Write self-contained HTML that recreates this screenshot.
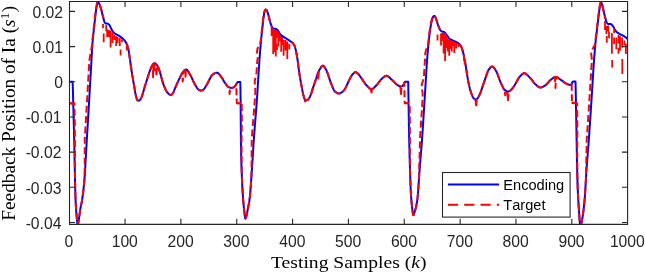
<!DOCTYPE html>
<html><head><meta charset="utf-8"><style>html,body{margin:0;padding:0;background:#fff;width:645px;height:272px;overflow:hidden}svg{display:block} text{-webkit-font-smoothing:antialiased} .gs{will-change:transform}</style></head>
<body><div class="gs"><svg width="645" height="272" viewBox="0 0 645 272">
<rect width="645" height="272" fill="#fff"/>
<defs><clipPath id="c"><rect x="69.5" y="1.5" width="558.1" height="222.9"/></clipPath></defs>
<g clip-path="url(#c)" fill="none" stroke-linejoin="round" stroke-linecap="butt">
<path d="M69.30,81.80 L69.54,81.80 L69.77,81.80 L70.01,81.80 L70.24,81.80 L70.48,81.80 L70.71,81.80 L70.95,81.80 L71.19,81.80 L71.42,81.80 L71.66,81.80 L71.89,81.80 L72.13,81.80 L72.36,81.80 L72.60,81.80 L72.75,84.70 L72.90,90.00 L73.15,99.57 L73.40,110.00 L73.60,117.44 L73.80,124.57 L74.00,131.91 L74.20,140.00 L74.40,149.59 L74.60,160.10 L74.80,170.00 L75.00,179.34 L75.20,188.17 L75.40,195.00 L75.62,200.46 L75.85,204.97 L76.08,208.75 L76.30,212.00 L76.55,215.26 L76.80,218.18 L77.05,220.63 L77.30,222.50 L77.55,224.03 L77.80,224.80 L78.00,224.41 L78.20,223.45 L78.40,222.21 L78.60,221.00 L78.83,219.64 L79.06,218.11 L79.29,216.47 L79.51,214.78 L79.74,213.09 L79.97,211.48 L80.20,210.00 L80.44,208.57 L80.69,207.25 L80.93,206.01 L81.18,204.80 L81.42,203.58 L81.67,202.34 L81.91,201.01 L82.16,199.58 L82.40,198.00 L82.65,196.24 L82.90,194.36 L83.15,192.34 L83.40,190.19 L83.65,187.89 L83.90,185.43 L84.15,182.80 L84.40,180.00 L84.64,176.99 L84.88,173.56 L85.12,169.79 L85.36,165.76 L85.60,161.52 L85.84,157.17 L86.08,152.77 L86.32,148.39 L86.56,144.11 L86.80,140.00 L87.04,136.01 L87.28,132.03 L87.52,128.06 L87.76,124.10 L88.00,120.13 L88.24,116.14 L88.48,112.15 L88.72,108.13 L88.96,104.08 L89.20,100.00 L89.45,95.69 L89.70,91.31 L89.95,86.89 L90.20,82.46 L90.45,78.03 L90.70,73.62 L90.95,69.27 L91.20,65.00 L91.43,60.95 L91.67,56.80 L91.90,52.69 L92.13,48.75 L92.37,45.14 L92.60,42.00 L92.85,39.16 L93.10,36.65 L93.35,34.32 L93.60,32.00 L93.85,29.68 L94.10,27.44 L94.35,25.23 L94.60,23.00 L94.85,20.70 L95.10,18.36 L95.35,16.09 L95.60,14.00 L95.85,12.04 L96.10,10.16 L96.35,8.45 L96.60,7.00 L96.84,5.71 L97.08,4.42 L97.32,3.30 L97.56,2.50 L97.80,2.20 L98.02,2.26 L98.23,2.42 L98.45,2.66 L98.67,2.95 L98.88,3.27 L99.10,3.60 L99.35,4.04 L99.60,4.59 L99.85,5.22 L100.10,5.92 L100.35,6.65 L100.60,7.40 L100.84,8.16 L101.08,8.99 L101.32,9.88 L101.56,10.81 L101.80,11.78 L102.04,12.75 L102.28,13.73 L102.52,14.69 L102.76,15.62 L103.00,16.50 L103.22,17.35 L103.45,18.25 L103.67,19.17 L103.90,20.07 L104.12,20.90 L104.35,21.63 L104.58,22.21 L104.80,22.60 L105.02,22.87 L105.24,23.10 L105.46,23.30 L105.68,23.43 L105.90,23.50 L106.15,23.53 L106.40,23.54 L106.65,23.55 L106.90,23.56 L107.15,23.58 L107.40,23.60 L107.62,23.65 L107.85,23.74 L108.08,23.86 L108.30,24.01 L108.53,24.18 L108.75,24.38 L108.98,24.58 L109.20,24.80 L109.44,25.08 L109.68,25.45 L109.92,25.90 L110.16,26.39 L110.40,26.92 L110.64,27.46 L110.88,28.00 L111.12,28.51 L111.36,28.99 L111.60,29.40 L111.83,29.77 L112.07,30.13 L112.30,30.49 L112.53,30.84 L112.77,31.18 L113.00,31.51 L113.23,31.82 L113.47,32.12 L113.70,32.40 L113.93,32.66 L114.17,32.89 L114.40,33.10 L114.65,33.30 L114.89,33.48 L115.14,33.65 L115.39,33.81 L115.63,33.96 L115.88,34.10 L116.13,34.23 L116.37,34.36 L116.62,34.49 L116.87,34.61 L117.11,34.74 L117.36,34.87 L117.61,35.01 L117.85,35.15 L118.10,35.30 L118.34,35.45 L118.58,35.60 L118.82,35.75 L119.06,35.90 L119.30,36.05 L119.54,36.20 L119.78,36.35 L120.02,36.50 L120.26,36.66 L120.50,36.82 L120.74,36.99 L120.98,37.16 L121.22,37.33 L121.46,37.51 L121.70,37.70 L121.93,37.89 L122.17,38.08 L122.40,38.28 L122.63,38.48 L122.87,38.69 L123.10,38.90 L123.33,39.13 L123.57,39.36 L123.80,39.61 L124.03,39.86 L124.27,40.12 L124.50,40.40 L124.72,40.68 L124.95,40.98 L125.17,41.29 L125.40,41.62 L125.62,41.98 L125.85,42.36 L126.08,42.77 L126.30,43.20 L126.54,43.69 L126.77,44.21 L127.01,44.78 L127.25,45.40 L127.49,46.07 L127.72,46.81 L127.96,47.62 L128.20,48.50 L128.43,49.55 L128.67,50.84 L128.90,52.30 L129.13,53.86 L129.37,55.45 L129.60,57.00 L129.85,58.66 L130.10,60.39 L130.35,62.16 L130.60,63.96 L130.85,65.76 L131.10,67.53 L131.35,69.25 L131.60,70.90 L131.84,72.40 L132.07,73.88 L132.31,75.33 L132.55,76.75 L132.78,78.16 L133.02,79.55 L133.25,80.92 L133.49,82.28 L133.73,83.62 L133.96,84.97 L134.20,86.30 L134.44,87.70 L134.69,89.14 L134.93,90.58 L135.17,91.97 L135.41,93.28 L135.66,94.47 L135.90,95.50 L136.13,96.40 L136.36,97.31 L136.59,98.19 L136.81,98.97 L137.04,99.62 L137.27,100.08 L137.50,100.30 L137.75,100.39 L138.00,100.46 L138.25,100.52 L138.50,100.56 L138.75,100.59 L139.00,100.60 L139.23,100.55 L139.46,100.41 L139.69,100.20 L139.91,99.94 L140.14,99.64 L140.37,99.32 L140.60,99.00 L140.84,98.63 L141.09,98.19 L141.33,97.68 L141.57,97.11 L141.81,96.49 L142.06,95.83 L142.30,95.12 L142.54,94.37 L142.79,93.59 L143.03,92.78 L143.27,91.95 L143.51,91.11 L143.76,90.26 L144.00,89.40 L144.24,88.54 L144.49,87.69 L144.73,86.84 L144.97,86.02 L145.21,85.22 L145.46,84.44 L145.70,83.70 L145.95,82.95 L146.20,82.20 L146.44,81.42 L146.69,80.65 L146.94,79.86 L147.19,79.07 L147.43,78.28 L147.68,77.49 L147.93,76.70 L148.18,75.91 L148.42,75.14 L148.67,74.37 L148.92,73.62 L149.17,72.88 L149.41,72.15 L149.66,71.45 L149.91,70.77 L150.16,70.11 L150.40,69.48 L150.65,68.87 L150.90,68.30 L151.13,67.77 L151.37,67.24 L151.60,66.72 L151.83,66.21 L152.07,65.73 L152.30,65.29 L152.53,64.90 L152.77,64.57 L153.00,64.30 L153.23,64.07 L153.46,63.85 L153.69,63.65 L153.91,63.47 L154.14,63.33 L154.37,63.23 L154.60,63.20 L154.82,63.23 L155.05,63.32 L155.28,63.45 L155.50,63.62 L155.72,63.82 L155.95,64.04 L156.18,64.27 L156.40,64.50 L156.64,64.77 L156.89,65.09 L157.13,65.46 L157.38,65.86 L157.62,66.30 L157.87,66.77 L158.11,67.26 L158.36,67.77 L158.60,68.30 L158.84,68.86 L159.09,69.49 L159.33,70.17 L159.57,70.90 L159.81,71.68 L160.06,72.50 L160.30,73.34 L160.54,74.22 L160.79,75.11 L161.03,76.01 L161.27,76.92 L161.51,77.84 L161.76,78.74 L162.00,79.63 L162.24,80.51 L162.49,81.36 L162.73,82.17 L162.97,82.95 L163.21,83.69 L163.46,84.37 L163.70,85.00 L163.94,85.60 L164.19,86.20 L164.43,86.80 L164.67,87.39 L164.92,87.97 L165.16,88.53 L165.41,89.08 L165.65,89.62 L165.89,90.13 L166.14,90.61 L166.38,91.07 L166.62,91.49 L166.87,91.88 L167.11,92.23 L167.36,92.54 L167.60,92.80 L167.84,93.03 L168.07,93.26 L168.31,93.49 L168.54,93.71 L168.78,93.92 L169.01,94.12 L169.25,94.31 L169.49,94.48 L169.72,94.63 L169.96,94.75 L170.19,94.86 L170.43,94.94 L170.66,94.98 L170.90,95.00 L171.13,94.96 L171.37,94.86 L171.60,94.69 L171.83,94.48 L172.07,94.22 L172.30,93.94 L172.53,93.63 L172.77,93.32 L173.00,93.00 L173.23,92.64 L173.46,92.21 L173.69,91.71 L173.92,91.15 L174.15,90.56 L174.38,89.95 L174.61,89.34 L174.84,88.73 L175.07,88.15 L175.30,87.60 L175.54,87.05 L175.78,86.50 L176.03,85.95 L176.27,85.40 L176.51,84.86 L176.75,84.31 L176.99,83.77 L177.24,83.23 L177.48,82.69 L177.72,82.16 L177.96,81.63 L178.21,81.10 L178.45,80.58 L178.69,80.07 L178.93,79.56 L179.17,79.06 L179.42,78.57 L179.66,78.08 L179.90,77.60 L180.14,77.13 L180.38,76.64 L180.62,76.15 L180.85,75.66 L181.09,75.17 L181.33,74.69 L181.57,74.22 L181.81,73.78 L182.05,73.36 L182.28,72.96 L182.52,72.60 L182.76,72.28 L183.00,72.00 L183.24,71.75 L183.47,71.49 L183.71,71.24 L183.94,70.99 L184.18,70.75 L184.41,70.52 L184.65,70.31 L184.89,70.11 L185.12,69.94 L185.36,69.79 L185.59,69.67 L185.83,69.58 L186.06,69.52 L186.30,69.50 L186.54,69.54 L186.78,69.65 L187.02,69.82 L187.26,70.05 L187.50,70.32 L187.74,70.64 L187.98,71.00 L188.22,71.39 L188.46,71.79 L188.70,72.21 L188.94,72.64 L189.18,73.07 L189.42,73.50 L189.66,73.91 L189.90,74.30 L190.15,74.71 L190.40,75.14 L190.65,75.60 L190.90,76.08 L191.15,76.58 L191.40,77.09 L191.65,77.61 L191.90,78.15 L192.15,78.69 L192.40,79.24 L192.65,79.79 L192.90,80.35 L193.15,80.89 L193.40,81.44 L193.65,81.98 L193.90,82.50 L194.15,83.02 L194.40,83.51 L194.65,83.99 L194.90,84.45 L195.15,84.89 L195.40,85.30 L195.64,85.68 L195.88,86.07 L196.12,86.45 L196.35,86.84 L196.59,87.21 L196.83,87.58 L197.07,87.93 L197.31,88.26 L197.55,88.57 L197.78,88.85 L198.02,89.10 L198.26,89.32 L198.50,89.50 L198.74,89.66 L198.98,89.82 L199.22,89.97 L199.46,90.12 L199.70,90.25 L199.94,90.37 L200.18,90.46 L200.42,90.54 L200.66,90.58 L200.90,90.60 L201.14,90.59 L201.37,90.55 L201.61,90.49 L201.85,90.41 L202.08,90.31 L202.32,90.20 L202.55,90.08 L202.79,89.94 L203.03,89.80 L203.26,89.65 L203.50,89.50 L203.74,89.31 L203.98,89.07 L204.22,88.79 L204.47,88.46 L204.71,88.10 L204.95,87.72 L205.19,87.32 L205.43,86.91 L205.68,86.49 L205.92,86.08 L206.16,85.68 L206.40,85.30 L206.64,84.91 L206.89,84.51 L207.13,84.08 L207.38,83.64 L207.62,83.18 L207.87,82.71 L208.11,82.23 L208.36,81.75 L208.60,81.26 L208.84,80.77 L209.09,80.27 L209.33,79.78 L209.58,79.30 L209.82,78.82 L210.07,78.35 L210.31,77.90 L210.56,77.45 L210.80,77.02 L211.04,76.62 L211.29,76.23 L211.53,75.87 L211.78,75.53 L212.02,75.22 L212.27,74.94 L212.51,74.69 L212.76,74.48 L213.00,74.30 L213.24,74.15 L213.47,74.00 L213.71,73.85 L213.95,73.71 L214.19,73.57 L214.43,73.44 L214.66,73.31 L214.90,73.20 L215.14,73.09 L215.38,72.99 L215.61,72.91 L215.85,72.84 L216.09,72.78 L216.33,72.74 L216.56,72.71 L216.80,72.70 L217.05,72.72 L217.30,72.78 L217.55,72.88 L217.80,73.01 L218.05,73.17 L218.30,73.36 L218.55,73.57 L218.80,73.81 L219.05,74.07 L219.30,74.35 L219.55,74.65 L219.80,74.96 L220.05,75.28 L220.30,75.60 L220.55,75.94 L220.80,76.27 L221.05,76.61 L221.30,76.95 L221.55,77.28 L221.80,77.60 L222.04,77.92 L222.27,78.29 L222.51,78.68 L222.75,79.10 L222.98,79.54 L223.22,79.98 L223.45,80.42 L223.69,80.85 L223.93,81.26 L224.16,81.65 L224.40,82.00 L224.64,82.35 L224.89,82.71 L225.13,83.07 L225.38,83.43 L225.62,83.79 L225.87,84.15 L226.11,84.50 L226.36,84.84 L226.60,85.17 L226.84,85.49 L227.09,85.79 L227.33,86.07 L227.58,86.33 L227.82,86.56 L228.07,86.77 L228.31,86.95 L228.56,87.09 L228.80,87.20 L229.05,87.29 L229.30,87.38 L229.55,87.47 L229.80,87.55 L230.05,87.62 L230.30,87.69 L230.55,87.75 L230.80,87.80 L231.05,87.84 L231.30,87.87 L231.55,87.89 L231.80,87.90 L232.04,87.89 L232.28,87.85 L232.53,87.78 L232.77,87.70 L233.01,87.59 L233.25,87.47 L233.49,87.34 L233.73,87.19 L233.97,87.03 L234.22,86.86 L234.46,86.68 L234.70,86.50 L234.95,86.27 L235.20,85.97 L235.45,85.62 L235.70,85.22 L235.95,84.80 L236.20,84.36 L236.45,83.92 L236.70,83.50 L236.92,83.12 L237.15,82.72 L237.38,82.32 L237.60,81.90 L240.30,81.90 L240.45,88.73 L240.60,100.00 L240.75,120.63 L240.90,140.00 L241.12,152.80 L241.35,162.13 L241.58,169.14 L241.80,175.00 L242.03,180.50 L242.27,185.34 L242.50,189.62 L242.73,193.42 L242.97,196.85 L243.20,200.00 L243.42,202.75 L243.64,205.27 L243.86,207.57 L244.08,209.64 L244.30,211.50 L244.52,213.36 L244.74,215.26 L244.96,216.94 L245.18,218.14 L245.40,218.60 L245.64,218.41 L245.88,217.91 L246.12,217.19 L246.36,216.35 L246.60,215.50 L246.83,214.56 L247.07,213.39 L247.30,212.08 L247.53,210.69 L247.77,209.31 L248.00,208.00 L248.25,206.73 L248.50,205.54 L248.75,204.36 L249.00,203.09 L249.25,201.67 L249.50,200.00 L249.74,198.05 L249.98,195.73 L250.22,193.08 L250.46,190.16 L250.70,187.03 L250.94,183.73 L251.18,180.33 L251.42,176.87 L251.66,173.41 L251.90,170.00 L252.14,166.53 L252.38,162.84 L252.61,159.00 L252.85,155.07 L253.09,151.14 L253.33,147.26 L253.56,143.53 L253.80,140.00 L254.04,136.66 L254.28,133.44 L254.52,130.33 L254.75,127.30 L254.99,124.33 L255.23,121.39 L255.47,118.47 L255.71,115.54 L255.95,112.58 L256.18,109.57 L256.42,106.49 L256.66,103.30 L256.90,100.00 L257.15,96.42 L257.39,92.66 L257.64,88.76 L257.88,84.77 L258.13,80.73 L258.37,76.68 L258.62,72.68 L258.86,68.77 L259.11,64.98 L259.35,61.38 L259.60,58.00 L259.84,54.83 L260.09,51.76 L260.33,48.79 L260.57,45.92 L260.81,43.17 L261.06,40.53 L261.30,38.00 L261.52,35.85 L261.74,33.83 L261.96,31.89 L262.18,29.96 L262.40,28.00 L262.62,25.94 L262.84,23.82 L263.06,21.72 L263.28,19.75 L263.50,18.00 L263.73,16.33 L263.95,14.74 L264.17,13.37 L264.40,12.40 L264.63,11.66 L264.87,10.98 L265.10,10.39 L265.33,9.92 L265.57,9.61 L265.80,9.50 L266.04,9.59 L266.28,9.83 L266.52,10.17 L266.76,10.58 L267.00,11.00 L267.24,11.50 L267.48,12.13 L267.72,12.85 L267.96,13.62 L268.20,14.40 L268.44,15.21 L268.68,16.09 L268.92,17.03 L269.16,18.00 L269.40,18.98 L269.64,19.96 L269.88,20.91 L270.12,21.82 L270.36,22.65 L270.60,23.40 L270.84,24.11 L271.09,24.82 L271.33,25.51 L271.57,26.14 L271.81,26.70 L272.06,27.16 L272.30,27.50 L272.55,27.77 L272.80,28.00 L273.05,28.21 L273.30,28.38 L273.55,28.51 L273.80,28.60 L274.05,28.66 L274.30,28.70 L274.55,28.73 L274.80,28.75 L275.05,28.78 L275.30,28.81 L275.55,28.85 L275.80,28.90 L276.03,28.98 L276.26,29.09 L276.49,29.24 L276.71,29.41 L276.94,29.60 L277.17,29.80 L277.40,30.00 L277.64,30.24 L277.88,30.52 L278.12,30.85 L278.35,31.20 L278.59,31.57 L278.83,31.96 L279.07,32.36 L279.31,32.75 L279.55,33.13 L279.78,33.50 L280.02,33.83 L280.26,34.14 L280.50,34.40 L280.74,34.64 L280.98,34.86 L281.22,35.07 L281.46,35.28 L281.71,35.47 L281.95,35.66 L282.19,35.84 L282.43,36.02 L282.67,36.19 L282.91,36.36 L283.15,36.52 L283.39,36.68 L283.64,36.85 L283.88,37.01 L284.12,37.17 L284.36,37.33 L284.60,37.50 L284.84,37.67 L285.09,37.83 L285.33,37.99 L285.57,38.15 L285.81,38.30 L286.06,38.45 L286.30,38.60 L286.54,38.75 L286.79,38.90 L287.03,39.04 L287.27,39.19 L287.51,39.34 L287.76,39.49 L288.00,39.64 L288.24,39.80 L288.49,39.95 L288.73,40.11 L288.97,40.28 L289.21,40.45 L289.46,40.62 L289.70,40.80 L289.95,40.98 L290.19,41.16 L290.44,41.33 L290.69,41.49 L290.94,41.66 L291.18,41.83 L291.43,42.00 L291.68,42.19 L291.92,42.38 L292.17,42.58 L292.42,42.79 L292.66,43.02 L292.91,43.27 L293.16,43.54 L293.41,43.84 L293.65,44.15 L293.90,44.50 L294.15,44.93 L294.40,45.48 L294.65,46.13 L294.90,46.87 L295.15,47.70 L295.40,48.59 L295.65,49.52 L295.90,50.50 L296.13,51.48 L296.36,52.60 L296.59,53.84 L296.81,55.17 L297.04,56.57 L297.27,58.02 L297.50,59.50 L297.75,61.23 L298.00,63.15 L298.25,65.15 L298.50,67.17 L298.75,69.11 L299.00,70.90 L299.24,72.47 L299.47,74.00 L299.71,75.49 L299.95,76.95 L300.18,78.37 L300.42,79.76 L300.65,81.12 L300.89,82.45 L301.13,83.75 L301.36,85.04 L301.60,86.30 L301.84,87.57 L302.08,88.86 L302.31,90.13 L302.55,91.37 L302.79,92.55 L303.02,93.65 L303.26,94.64 L303.50,95.50 L303.74,96.31 L303.98,97.14 L304.21,97.94 L304.45,98.69 L304.69,99.34 L304.92,99.85 L305.16,100.18 L305.40,100.30 L305.64,100.30 L305.88,100.29 L306.11,100.27 L306.35,100.25 L306.59,100.22 L306.82,100.18 L307.06,100.14 L307.30,100.10 L307.55,100.01 L307.80,99.84 L308.05,99.61 L308.30,99.32 L308.55,99.00 L308.80,98.64 L309.05,98.27 L309.30,97.90 L309.54,97.51 L309.79,97.06 L310.03,96.56 L310.27,96.02 L310.51,95.43 L310.76,94.80 L311.00,94.14 L311.24,93.44 L311.49,92.72 L311.73,91.98 L311.97,91.23 L312.21,90.46 L312.46,89.68 L312.70,88.90 L312.94,88.12 L313.19,87.34 L313.43,86.58 L313.67,85.82 L313.91,85.09 L314.16,84.38 L314.40,83.70 L314.65,83.01 L314.90,82.30 L315.14,81.56 L315.39,80.82 L315.64,80.07 L315.89,79.31 L316.13,78.54 L316.38,77.78 L316.63,77.02 L316.88,76.27 L317.12,75.54 L317.37,74.81 L317.62,74.11 L317.87,73.43 L318.11,72.77 L318.36,72.15 L318.61,71.56 L318.86,71.00 L319.10,70.49 L319.35,70.02 L319.60,69.60 L319.84,69.22 L320.07,68.83 L320.31,68.44 L320.54,68.06 L320.78,67.68 L321.01,67.33 L321.25,66.99 L321.49,66.68 L321.72,66.40 L321.96,66.17 L322.19,65.97 L322.43,65.82 L322.66,65.73 L322.90,65.70 L323.14,65.74 L323.38,65.85 L323.62,66.02 L323.85,66.24 L324.09,66.52 L324.33,66.83 L324.57,67.18 L324.81,67.56 L325.05,67.96 L325.28,68.37 L325.52,68.78 L325.76,69.20 L326.00,69.60 L326.25,70.04 L326.50,70.54 L326.74,71.08 L326.99,71.67 L327.24,72.29 L327.49,72.96 L327.73,73.65 L327.98,74.36 L328.23,75.10 L328.48,75.85 L328.72,76.61 L328.97,77.37 L329.22,78.14 L329.47,78.90 L329.71,79.65 L329.96,80.39 L330.21,81.11 L330.46,81.80 L330.70,82.47 L330.95,83.10 L331.20,83.70 L331.44,84.26 L331.68,84.84 L331.91,85.42 L332.15,86.01 L332.39,86.60 L332.62,87.18 L332.86,87.76 L333.10,88.31 L333.34,88.84 L333.57,89.35 L333.81,89.82 L334.05,90.25 L334.29,90.64 L334.52,90.99 L334.76,91.27 L335.00,91.50 L335.24,91.70 L335.49,91.89 L335.73,92.08 L335.98,92.26 L336.22,92.44 L336.46,92.60 L336.71,92.76 L336.95,92.90 L337.19,93.03 L337.44,93.15 L337.68,93.25 L337.92,93.34 L338.17,93.41 L338.41,93.46 L338.66,93.49 L338.90,93.50 L339.14,93.49 L339.38,93.45 L339.62,93.39 L339.87,93.32 L340.11,93.22 L340.35,93.11 L340.59,92.99 L340.83,92.86 L341.07,92.73 L341.32,92.59 L341.56,92.44 L341.80,92.30 L342.04,92.15 L342.27,91.98 L342.51,91.78 L342.75,91.57 L342.98,91.35 L343.22,91.10 L343.45,90.84 L343.69,90.57 L343.93,90.29 L344.16,90.00 L344.40,89.70 L344.65,89.36 L344.90,88.99 L345.15,88.58 L345.40,88.15 L345.65,87.68 L345.90,87.20 L346.15,86.69 L346.40,86.17 L346.65,85.64 L346.90,85.09 L347.15,84.53 L347.40,83.97 L347.65,83.41 L347.90,82.84 L348.15,82.28 L348.40,81.73 L348.65,81.18 L348.90,80.65 L349.15,80.13 L349.40,79.63 L349.65,79.15 L349.90,78.70 L350.14,78.28 L350.37,77.85 L350.61,77.42 L350.85,77.00 L351.08,76.58 L351.32,76.18 L351.55,75.79 L351.79,75.42 L352.03,75.08 L352.26,74.77 L352.50,74.50 L352.75,74.23 L353.00,73.95 L353.25,73.67 L353.50,73.40 L353.75,73.14 L354.00,72.90 L354.25,72.68 L354.50,72.48 L354.75,72.32 L355.00,72.20 L355.25,72.13 L355.50,72.10 L355.73,72.12 L355.97,72.18 L356.20,72.28 L356.43,72.41 L356.67,72.56 L356.90,72.73 L357.13,72.93 L357.37,73.13 L357.60,73.35 L357.83,73.57 L358.07,73.79 L358.30,74.00 L358.55,74.24 L358.79,74.51 L359.04,74.81 L359.28,75.13 L359.53,75.47 L359.77,75.82 L360.02,76.18 L360.26,76.54 L360.51,76.90 L360.75,77.26 L361.00,77.60 L361.25,77.95 L361.50,78.30 L361.75,78.67 L362.00,79.04 L362.25,79.42 L362.50,79.80 L362.75,80.18 L363.00,80.57 L363.25,80.95 L363.50,81.34 L363.75,81.72 L364.00,82.10 L364.25,82.47 L364.50,82.83 L364.75,83.19 L365.00,83.53 L365.25,83.86 L365.50,84.18 L365.75,84.49 L366.00,84.78 L366.25,85.05 L366.50,85.30 L366.74,85.54 L366.99,85.78 L367.23,86.03 L367.47,86.28 L367.71,86.53 L367.96,86.77 L368.20,87.02 L368.44,87.26 L368.69,87.49 L368.93,87.71 L369.17,87.92 L369.41,88.12 L369.66,88.31 L369.90,88.48 L370.14,88.63 L370.39,88.77 L370.63,88.88 L370.87,88.98 L371.11,89.04 L371.36,89.09 L371.60,89.10 L371.84,89.08 L372.08,89.03 L372.32,88.96 L372.56,88.85 L372.80,88.72 L373.04,88.57 L373.28,88.39 L373.52,88.20 L373.76,87.99 L374.00,87.77 L374.24,87.54 L374.48,87.29 L374.72,87.04 L374.96,86.79 L375.20,86.53 L375.44,86.28 L375.68,86.02 L375.92,85.78 L376.16,85.53 L376.40,85.30 L376.65,85.05 L376.90,84.79 L377.15,84.51 L377.40,84.21 L377.65,83.91 L377.90,83.59 L378.15,83.26 L378.40,82.93 L378.65,82.60 L378.90,82.26 L379.15,81.92 L379.40,81.58 L379.65,81.25 L379.90,80.92 L380.15,80.59 L380.40,80.28 L380.65,79.98 L380.90,79.69 L381.15,79.42 L381.40,79.16 L381.65,78.92 L381.90,78.70 L382.15,78.49 L382.40,78.27 L382.65,78.05 L382.90,77.83 L383.15,77.61 L383.40,77.39 L383.65,77.18 L383.90,76.98 L384.15,76.78 L384.40,76.60 L384.65,76.43 L384.90,76.28 L385.15,76.14 L385.40,76.02 L385.65,75.93 L385.90,75.86 L386.15,75.81 L386.40,75.80 L386.65,75.82 L386.90,75.86 L387.15,75.93 L387.40,76.03 L387.65,76.15 L387.90,76.29 L388.15,76.45 L388.40,76.62 L388.65,76.82 L388.90,77.02 L389.15,77.24 L389.40,77.47 L389.65,77.70 L389.90,77.94 L390.15,78.18 L390.40,78.42 L390.65,78.67 L390.90,78.91 L391.15,79.14 L391.40,79.37 L391.65,79.59 L391.90,79.80 L392.15,80.01 L392.40,80.23 L392.65,80.46 L392.90,80.70 L393.15,80.94 L393.40,81.19 L393.65,81.45 L393.90,81.70 L394.15,81.96 L394.40,82.22 L394.65,82.48 L394.90,82.74 L395.15,82.99 L395.40,83.24 L395.65,83.48 L395.90,83.72 L396.15,83.94 L396.40,84.16 L396.65,84.36 L396.90,84.56 L397.15,84.74 L397.40,84.90 L397.65,85.06 L397.90,85.22 L398.15,85.39 L398.40,85.55 L398.65,85.72 L398.90,85.87 L399.15,86.02 L399.40,86.16 L399.65,86.28 L399.90,86.39 L400.15,86.48 L400.40,86.54 L400.65,86.59 L400.90,86.60 L401.15,86.58 L401.40,86.52 L401.65,86.43 L401.90,86.30 L402.15,86.15 L402.40,85.96 L402.65,85.75 L402.90,85.52 L403.15,85.27 L403.40,85.00 L403.65,84.51 L403.90,83.77 L404.15,83.02 L404.40,82.50 L404.60,82.25 L404.80,82.04 L405.00,81.88 L405.20,81.80 L408.20,81.80 L408.35,91.00 L408.50,100.00 L408.73,114.14 L408.97,127.98 L409.20,140.00 L409.40,148.67 L409.60,156.53 L409.80,163.62 L410.00,170.00 L410.25,177.44 L410.50,184.36 L410.75,190.36 L411.00,195.00 L411.22,198.11 L411.43,200.83 L411.65,203.23 L411.87,205.35 L412.08,207.25 L412.30,209.00 L412.55,211.06 L412.80,213.07 L413.05,214.60 L413.30,215.20 L413.52,215.06 L413.73,214.67 L413.95,214.10 L414.17,213.42 L414.38,212.70 L414.60,212.00 L414.85,211.23 L415.09,210.44 L415.34,209.60 L415.58,208.70 L415.83,207.74 L416.07,206.70 L416.32,205.58 L416.56,204.36 L416.81,203.03 L417.05,201.58 L417.30,200.00 L417.53,198.17 L417.76,195.84 L417.99,193.10 L418.22,190.03 L418.45,186.74 L418.68,183.31 L418.91,179.82 L419.14,176.38 L419.37,173.08 L419.60,170.00 L419.84,166.98 L420.08,164.02 L420.32,161.10 L420.56,158.20 L420.80,155.30 L421.04,152.38 L421.28,149.41 L421.52,146.37 L421.76,143.24 L422.00,140.00 L422.24,136.68 L422.47,133.25 L422.71,129.72 L422.95,126.11 L423.18,122.43 L423.42,118.71 L423.65,114.96 L423.89,111.20 L424.13,107.44 L424.36,103.70 L424.60,100.00 L424.83,96.31 L425.07,92.51 L425.30,88.64 L425.53,84.73 L425.77,80.81 L426.00,76.92 L426.23,73.09 L426.47,69.35 L426.70,65.74 L426.93,62.29 L427.17,59.03 L427.40,56.00 L427.62,53.25 L427.85,50.61 L428.07,48.08 L428.30,45.65 L428.52,43.33 L428.75,41.11 L428.97,39.00 L429.20,37.00 L429.44,34.97 L429.68,33.04 L429.92,31.23 L430.16,29.54 L430.40,28.00 L430.63,26.60 L430.87,25.27 L431.10,24.01 L431.33,22.84 L431.57,21.77 L431.80,20.80 L432.04,19.86 L432.28,18.94 L432.52,18.12 L432.76,17.45 L433.00,17.00 L433.22,16.72 L433.43,16.46 L433.65,16.23 L433.87,16.06 L434.08,15.94 L434.30,15.90 L434.55,16.00 L434.80,16.26 L435.05,16.61 L435.30,17.00 L435.52,17.44 L435.75,18.01 L435.98,18.66 L436.20,19.30 L436.45,20.02 L436.70,20.79 L436.95,21.60 L437.20,22.41 L437.45,23.22 L437.70,24.00 L437.95,24.74 L438.20,25.40 L438.45,26.03 L438.70,26.66 L438.95,27.29 L439.20,27.91 L439.45,28.49 L439.70,29.03 L439.95,29.53 L440.20,29.96 L440.45,30.32 L440.70,30.60 L440.93,30.80 L441.16,30.99 L441.39,31.15 L441.61,31.30 L441.84,31.42 L442.07,31.52 L442.30,31.60 L442.54,31.66 L442.79,31.70 L443.03,31.73 L443.27,31.76 L443.51,31.80 L443.76,31.84 L444.00,31.90 L444.25,32.01 L444.50,32.19 L444.75,32.42 L445.00,32.70 L445.25,33.01 L445.50,33.35 L445.75,33.70 L446.00,34.05 L446.25,34.38 L446.50,34.70 L446.74,35.00 L446.98,35.33 L447.22,35.67 L447.45,36.03 L447.69,36.39 L447.93,36.75 L448.17,37.10 L448.41,37.45 L448.65,37.78 L448.88,38.08 L449.12,38.36 L449.36,38.60 L449.60,38.80 L449.84,38.98 L450.08,39.14 L450.32,39.29 L450.56,39.43 L450.81,39.57 L451.05,39.69 L451.29,39.81 L451.53,39.92 L451.77,40.03 L452.01,40.14 L452.25,40.25 L452.49,40.35 L452.74,40.45 L452.98,40.56 L453.22,40.67 L453.46,40.78 L453.70,40.90 L453.94,41.02 L454.18,41.13 L454.42,41.24 L454.66,41.35 L454.91,41.45 L455.15,41.55 L455.39,41.66 L455.63,41.76 L455.87,41.87 L456.11,41.98 L456.35,42.09 L456.59,42.21 L456.84,42.33 L457.08,42.46 L457.32,42.60 L457.56,42.74 L457.80,42.90 L458.04,43.06 L458.28,43.23 L458.52,43.41 L458.75,43.60 L458.99,43.80 L459.23,44.01 L459.47,44.24 L459.71,44.48 L459.95,44.74 L460.18,45.02 L460.42,45.33 L460.66,45.65 L460.90,46.00 L461.15,46.43 L461.40,46.96 L461.65,47.57 L461.90,48.26 L462.15,49.01 L462.40,49.80 L462.65,50.64 L462.90,51.50 L463.14,52.40 L463.39,53.42 L463.63,54.51 L463.87,55.68 L464.11,56.90 L464.36,58.14 L464.60,59.40 L464.82,60.57 L465.04,61.81 L465.26,63.09 L465.48,64.39 L465.70,65.70 L465.95,67.22 L466.20,68.80 L466.45,70.43 L466.70,72.08 L466.95,73.72 L467.20,75.35 L467.45,76.93 L467.70,78.45 L467.95,79.88 L468.20,81.20 L468.43,82.32 L468.65,83.39 L468.88,84.43 L469.10,85.42 L469.32,86.38 L469.55,87.29 L469.77,88.17 L470.00,89.00 L470.23,89.81 L470.46,90.60 L470.69,91.35 L470.91,92.07 L471.14,92.76 L471.37,93.40 L471.60,94.00 L471.84,94.60 L472.08,95.19 L472.31,95.77 L472.55,96.32 L472.79,96.82 L473.02,97.28 L473.26,97.68 L473.50,98.00 L473.74,98.29 L473.98,98.57 L474.21,98.84 L474.45,99.09 L474.69,99.29 L474.92,99.46 L475.16,99.56 L475.40,99.60 L475.64,99.57 L475.88,99.50 L476.11,99.39 L476.35,99.25 L476.59,99.08 L476.82,98.90 L477.06,98.70 L477.30,98.50 L477.55,98.25 L477.80,97.94 L478.05,97.58 L478.30,97.18 L478.55,96.74 L478.80,96.27 L479.05,95.79 L479.30,95.30 L479.54,94.81 L479.79,94.28 L480.03,93.72 L480.27,93.12 L480.51,92.50 L480.76,91.86 L481.00,91.19 L481.24,90.50 L481.49,89.80 L481.73,89.09 L481.97,88.36 L482.21,87.63 L482.46,86.89 L482.70,86.16 L482.94,85.42 L483.19,84.69 L483.43,83.96 L483.67,83.25 L483.91,82.55 L484.16,81.87 L484.40,81.20 L484.64,80.53 L484.89,79.82 L485.13,79.10 L485.38,78.36 L485.62,77.62 L485.87,76.87 L486.11,76.12 L486.36,75.38 L486.60,74.65 L486.84,73.94 L487.09,73.25 L487.33,72.59 L487.58,71.97 L487.82,71.39 L488.07,70.86 L488.31,70.38 L488.56,69.96 L488.80,69.60 L489.04,69.28 L489.29,68.95 L489.53,68.64 L489.77,68.33 L490.01,68.03 L490.26,67.75 L490.50,67.49 L490.74,67.25 L490.99,67.03 L491.23,66.85 L491.47,66.70 L491.71,66.59 L491.96,66.52 L492.20,66.50 L492.44,66.53 L492.68,66.61 L492.91,66.74 L493.15,66.91 L493.39,67.13 L493.62,67.38 L493.86,67.66 L494.10,67.97 L494.34,68.30 L494.57,68.65 L494.81,69.01 L495.05,69.39 L495.29,69.77 L495.52,70.15 L495.76,70.53 L496.00,70.90 L496.25,71.31 L496.50,71.77 L496.74,72.27 L496.99,72.81 L497.24,73.39 L497.49,74.00 L497.73,74.64 L497.98,75.30 L498.23,75.97 L498.48,76.66 L498.72,77.35 L498.97,78.05 L499.22,78.75 L499.47,79.44 L499.71,80.12 L499.96,80.78 L500.21,81.42 L500.46,82.04 L500.70,82.63 L500.95,83.18 L501.20,83.70 L501.44,84.18 L501.68,84.67 L501.91,85.17 L502.15,85.67 L502.39,86.17 L502.62,86.66 L502.86,87.14 L503.10,87.61 L503.34,88.05 L503.57,88.47 L503.81,88.86 L504.05,89.21 L504.29,89.53 L504.52,89.80 L504.76,90.03 L505.00,90.20 L505.24,90.35 L505.49,90.49 L505.73,90.63 L505.97,90.76 L506.21,90.89 L506.46,91.01 L506.70,91.11 L506.94,91.21 L507.19,91.29 L507.43,91.36 L507.67,91.42 L507.91,91.46 L508.16,91.49 L508.40,91.50 L508.64,91.48 L508.87,91.41 L509.11,91.31 L509.35,91.17 L509.58,91.01 L509.82,90.83 L510.05,90.63 L510.29,90.43 L510.53,90.21 L510.76,90.00 L511.00,89.80 L511.25,89.58 L511.50,89.34 L511.75,89.07 L512.00,88.80 L512.25,88.50 L512.50,88.20 L512.75,87.88 L513.00,87.55 L513.25,87.22 L513.50,86.88 L513.75,86.54 L514.00,86.20 L514.25,85.85 L514.49,85.48 L514.74,85.09 L514.98,84.69 L515.23,84.27 L515.48,83.83 L515.72,83.39 L515.97,82.93 L516.21,82.48 L516.46,82.01 L516.70,81.55 L516.95,81.09 L517.20,80.63 L517.44,80.18 L517.69,79.74 L517.93,79.30 L518.18,78.88 L518.42,78.48 L518.67,78.09 L518.92,77.72 L519.16,77.38 L519.41,77.06 L519.65,76.76 L519.90,76.50 L520.14,76.25 L520.39,76.00 L520.63,75.74 L520.88,75.49 L521.12,75.23 L521.37,74.98 L521.61,74.74 L521.86,74.51 L522.10,74.29 L522.34,74.09 L522.59,73.90 L522.83,73.73 L523.08,73.57 L523.32,73.45 L523.57,73.34 L523.81,73.26 L524.06,73.22 L524.30,73.20 L524.54,73.21 L524.79,73.26 L525.03,73.33 L525.27,73.42 L525.52,73.54 L525.76,73.67 L526.00,73.83 L526.25,74.01 L526.49,74.20 L526.73,74.40 L526.98,74.62 L527.22,74.85 L527.47,75.09 L527.71,75.33 L527.95,75.59 L528.20,75.84 L528.44,76.10 L528.68,76.36 L528.93,76.62 L529.17,76.87 L529.41,77.12 L529.66,77.36 L529.90,77.60 L530.15,77.85 L530.40,78.11 L530.65,78.39 L530.90,78.69 L531.15,78.99 L531.40,79.31 L531.65,79.63 L531.90,79.97 L532.15,80.30 L532.40,80.64 L532.65,80.98 L532.90,81.31 L533.15,81.65 L533.40,81.98 L533.65,82.30 L533.90,82.61 L534.15,82.92 L534.40,83.21 L534.65,83.48 L534.90,83.74 L535.15,83.98 L535.40,84.20 L535.64,84.41 L535.89,84.62 L536.13,84.83 L536.37,85.05 L536.61,85.26 L536.86,85.48 L537.10,85.69 L537.34,85.90 L537.59,86.10 L537.83,86.29 L538.07,86.48 L538.31,86.65 L538.56,86.81 L538.80,86.96 L539.04,87.09 L539.29,87.21 L539.53,87.31 L539.77,87.39 L540.01,87.45 L540.26,87.49 L540.50,87.50 L540.74,87.49 L540.98,87.47 L541.22,87.42 L541.46,87.37 L541.70,87.30 L541.94,87.21 L542.18,87.12 L542.42,87.01 L542.66,86.90 L542.90,86.77 L543.14,86.64 L543.38,86.51 L543.62,86.36 L543.86,86.22 L544.10,86.06 L544.34,85.91 L544.58,85.76 L544.82,85.60 L545.06,85.45 L545.30,85.30 L545.55,85.13 L545.80,84.94 L546.05,84.74 L546.30,84.51 L546.55,84.27 L546.80,84.02 L547.05,83.76 L547.30,83.48 L547.55,83.20 L547.80,82.92 L548.05,82.63 L548.30,82.34 L548.55,82.05 L548.80,81.76 L549.05,81.48 L549.30,81.21 L549.55,80.94 L549.80,80.68 L550.05,80.44 L550.30,80.21 L550.55,79.99 L550.80,79.80 L551.04,79.62 L551.29,79.43 L551.53,79.23 L551.78,79.03 L552.02,78.84 L552.27,78.64 L552.51,78.45 L552.76,78.26 L553.00,78.07 L553.25,77.90 L553.50,77.73 L553.74,77.57 L553.99,77.43 L554.23,77.30 L554.48,77.18 L554.72,77.09 L554.97,77.01 L555.21,76.95 L555.46,76.91 L555.70,76.90 L555.94,76.91 L556.19,76.95 L556.43,77.01 L556.67,77.08 L556.91,77.18 L557.16,77.29 L557.40,77.42 L557.64,77.56 L557.89,77.71 L558.13,77.87 L558.37,78.04 L558.61,78.21 L558.86,78.39 L559.10,78.58 L559.34,78.76 L559.59,78.95 L559.83,79.13 L560.07,79.31 L560.31,79.48 L560.56,79.64 L560.80,79.80 L561.05,79.96 L561.30,80.13 L561.55,80.30 L561.80,80.48 L562.05,80.67 L562.30,80.86 L562.55,81.05 L562.80,81.24 L563.05,81.44 L563.30,81.63 L563.55,81.83 L563.80,82.02 L564.05,82.20 L564.30,82.39 L564.55,82.57 L564.80,82.74 L565.05,82.91 L565.30,83.07 L565.55,83.22 L565.80,83.36 L566.05,83.48 L566.30,83.60 L566.54,83.71 L566.79,83.82 L567.03,83.93 L567.27,84.04 L567.52,84.16 L567.76,84.26 L568.01,84.37 L568.25,84.46 L568.49,84.56 L568.74,84.64 L568.98,84.71 L569.23,84.78 L569.47,84.83 L569.71,84.87 L569.96,84.89 L570.20,84.90 L570.43,84.87 L570.66,84.79 L570.89,84.66 L571.11,84.50 L571.34,84.29 L571.57,84.06 L571.80,83.80 L572.03,83.26 L572.27,82.49 L572.50,82.00 L572.70,81.84 L572.90,81.72 L573.10,81.63 L573.30,81.60 L575.50,81.60 L575.70,90.37 L575.90,100.00 L576.13,112.84 L576.37,126.72 L576.60,140.00 L576.83,152.72 L577.07,164.92 L577.30,175.00 L577.53,182.87 L577.77,189.54 L578.00,195.00 L578.25,199.78 L578.50,203.85 L578.75,207.50 L579.00,211.00 L579.25,214.77 L579.50,218.60 L579.75,221.75 L580.00,223.50 L580.20,224.10 L580.40,224.53 L580.60,224.70 L580.83,224.52 L581.07,224.07 L581.30,223.50 L581.52,222.79 L581.74,221.81 L581.96,220.63 L582.18,219.34 L582.40,218.00 L582.64,216.48 L582.89,214.86 L583.13,213.13 L583.38,211.29 L583.62,209.32 L583.87,207.22 L584.11,204.97 L584.36,202.57 L584.60,200.00 L584.84,197.11 L585.08,193.69 L585.31,189.88 L585.55,185.82 L585.79,181.67 L586.02,177.55 L586.26,173.61 L586.50,170.00 L586.73,166.78 L586.96,163.68 L587.19,160.68 L587.42,157.75 L587.65,154.86 L587.88,151.98 L588.11,149.09 L588.34,146.14 L588.57,143.12 L588.80,140.00 L589.05,136.57 L589.29,133.07 L589.54,129.52 L589.78,125.92 L590.03,122.28 L590.27,118.61 L590.52,114.91 L590.76,111.19 L591.01,107.46 L591.25,103.73 L591.50,100.00 L591.75,96.20 L591.99,92.29 L592.24,88.30 L592.48,84.27 L592.73,80.23 L592.97,76.23 L593.22,72.30 L593.46,68.47 L593.71,64.79 L593.95,61.28 L594.20,58.00 L594.43,55.11 L594.66,52.33 L594.89,49.66 L595.11,47.09 L595.34,44.63 L595.57,42.27 L595.80,40.00 L596.03,37.82 L596.27,35.76 L596.50,33.79 L596.73,31.87 L596.97,29.95 L597.20,28.00 L597.42,26.15 L597.63,24.29 L597.85,22.43 L598.07,20.59 L598.28,18.77 L598.50,17.00 L598.72,15.18 L598.94,13.33 L599.16,11.53 L599.38,9.89 L599.60,8.50 L599.83,7.14 L600.07,5.75 L600.30,4.46 L600.53,3.40 L600.77,2.67 L601.00,2.40 L601.22,2.53 L601.44,2.89 L601.66,3.40 L601.88,3.99 L602.10,4.60 L602.32,5.31 L602.54,6.21 L602.76,7.20 L602.98,8.23 L603.20,9.20 L603.44,10.24 L603.69,11.32 L603.93,12.41 L604.18,13.51 L604.42,14.58 L604.67,15.63 L604.91,16.62 L605.16,17.55 L605.40,18.40 L605.63,19.16 L605.86,19.91 L606.09,20.64 L606.31,21.32 L606.54,21.92 L606.77,22.42 L607.00,22.80 L607.22,23.09 L607.43,23.37 L607.65,23.62 L607.87,23.82 L608.08,23.95 L608.30,24.00 L608.54,24.00 L608.79,24.00 L609.03,24.00 L609.28,24.00 L609.52,24.00 L609.77,24.00 L610.01,24.00 L610.26,24.00 L610.50,24.00 L610.73,24.03 L610.97,24.12 L611.20,24.26 L611.43,24.44 L611.67,24.67 L611.90,24.92 L612.13,25.19 L612.37,25.49 L612.60,25.79 L612.83,26.10 L613.07,26.41 L613.30,26.70 L613.55,27.04 L613.79,27.43 L614.04,27.87 L614.28,28.34 L614.53,28.82 L614.77,29.31 L615.02,29.78 L615.26,30.23 L615.51,30.65 L615.75,31.01 L616.00,31.30 L616.25,31.55 L616.49,31.78 L616.74,32.01 L616.99,32.21 L617.23,32.41 L617.48,32.60 L617.73,32.78 L617.97,32.95 L618.22,33.11 L618.47,33.27 L618.71,33.42 L618.96,33.57 L619.21,33.71 L619.45,33.86 L619.70,34.00 L619.95,34.14 L620.19,34.27 L620.44,34.39 L620.69,34.51 L620.93,34.62 L621.18,34.73 L621.43,34.84 L621.67,34.95 L621.92,35.06 L622.17,35.17 L622.41,35.28 L622.66,35.40 L622.91,35.53 L623.15,35.66 L623.40,35.80 L623.65,35.95 L623.89,36.10 L624.14,36.26 L624.39,36.42 L624.63,36.58 L624.88,36.76 L625.13,36.93 L625.37,37.12 L625.62,37.31 L625.87,37.50 L626.11,37.71 L626.36,37.92 L626.61,38.14 L626.85,38.36 L627.10,38.60 L627.34,38.84 L627.58,39.11 L627.81,39.39 L628.05,39.69 L628.29,40.00 L628.52,40.33 L628.76,40.66 L629.00,41.00" stroke="#0000ff" stroke-width="2.0"/>
<path d="M69.50,103.30 L74.34,103.30 L74.50,110.00 L74.70,117.44 L74.81,124.57 L74.86,131.91 L74.90,140.00 L74.91,149.59 L74.90,160.10 L74.90,170.00 L75.00,179.34 L75.20,188.17 L75.40,195.00 L75.62,200.46 L75.85,204.97 L76.08,208.75 L76.30,212.00 L76.55,215.26 L76.80,218.18 L77.05,220.63 L77.30,222.50 L77.55,224.03 L77.80,224.80 L78.00,224.41 L78.20,223.45 L78.40,222.21 L78.60,221.00 L78.83,219.64 L79.06,218.11 L79.29,216.47 L79.51,214.78 L79.74,213.09 L79.97,211.48 L80.20,210.00 L80.44,208.57 L80.69,207.25 L80.93,206.01 L81.18,204.80 L81.42,203.58 L81.67,202.34 L81.91,201.01 L82.16,199.58 L82.40,198.00 L82.65,196.24 L82.90,194.36 L83.15,192.34 L83.40,190.19 L83.65,187.89 L83.90,185.43 L84.15,182.80 L84.40,180.00 L84.59,176.99 L84.65,173.56 L84.69,169.79 L84.72,165.76 L84.73,161.52 L84.74,157.17 L84.75,152.77 L84.76,148.39 L84.78,144.11 L84.70,140.00 L84.94,136.01 L85.18,132.03 L85.42,128.06 L85.66,124.10 L85.90,120.13 L86.14,116.14 L86.38,112.15 L86.62,108.13 L86.86,104.08 L87.10,100.00 L87.35,95.69 L87.60,91.31 L87.85,86.89 L88.10,82.46 L88.35,78.03 L88.60,73.62 L88.85,69.27 L89.10,65.00 L89.33,60.95 L89.95,56.80 L90.68,52.69 L91.38,48.75 L92.05,45.14 L92.30,42.00 L92.55,39.16 L92.80,36.65 L93.05,34.32 L93.30,32.00 L93.55,29.68 L93.80,27.44 L94.05,25.23 L94.30,23.00 L94.55,20.70 L94.80,18.36 L95.05,16.09 L95.30,14.00 L95.55,12.04 L95.80,10.16 L96.05,8.45 L96.30,7.00 L96.54,5.71 L96.78,4.42 L97.02,3.30 L97.26,2.50 L97.80,2.20 L98.36,2.56 L98.92,3.32 L99.48,4.31 L100.03,5.73 L100.59,7.38 L101.15,9.25 L101.71,11.41 L102.27,13.68 L102.83,15.86 L103.38,17.99 M126.28,43.16 L126.84,44.37 L127.40,45.82 L127.96,47.59 L128.51,50.00 L129.07,53.46 L129.63,57.21 L130.19,61.03 L130.75,65.03 L131.31,68.95 L131.87,72.58 L132.42,76.02 L132.98,79.33 L133.54,82.56 L134.10,85.73 L134.66,88.97 L135.22,92.21 L135.77,94.97 L136.33,97.22 L136.89,99.19 L137.45,100.25 L138.01,100.46 L138.57,100.57 L139.13,100.57 L139.68,100.20 L140.24,99.50 L140.80,98.69 L141.36,97.61 L141.92,96.21 L142.48,94.57 L143.03,92.76 L143.59,90.83 L144.15,88.86 L144.71,86.91 L145.27,85.05 L145.83,83.32 L146.39,81.60 L146.94,79.84 L147.50,78.06 L148.06,76.28 L148.62,74.53 L149.18,72.85 L149.74,71.25 L150.29,69.76 L150.85,68.41 L151.41,67.14 L151.97,65.93 L152.53,64.91 L153.09,77.21 L153.64,63.68 L154.20,71.30 L154.76,63.22 L155.32,63.49 L155.88,63.97 L156.44,76.54 L157.00,65.25 L157.55,66.18 L158.11,67.27 L158.67,68.46 L159.23,69.89 L159.79,71.60 L160.35,73.51 L160.90,75.55 L161.46,77.65 L162.02,79.71 L162.58,81.68 L163.14,83.46 L163.70,84.99 L164.26,86.37 L164.81,87.72 L165.37,89.01 L165.93,90.20 L166.49,91.25 L167.05,92.13 L167.61,92.81 L168.16,93.35 L168.72,93.87 L169.28,94.33 L169.84,94.69 L170.40,94.93 L170.96,94.99 L171.52,94.75 L172.07,94.21 L172.63,93.50 L173.19,92.71 L173.75,91.56 L174.31,90.15 L174.87,88.66 L175.42,87.32 L175.98,86.05 L176.54,84.79 L177.10,83.53 L177.66,82.30 L178.22,81.08 L178.78,79.89 L179.33,78.73 L179.89,77.62 L180.45,76.49 L181.01,75.34 L181.57,74.23 L182.13,73.22 L182.68,81.38 L183.24,76.74 L183.80,71.14 L184.36,70.57 L184.92,70.09 L185.48,76.73 L186.04,69.53 L186.59,69.56 L187.15,69.94 L187.71,70.60 L188.27,71.47 L188.83,72.44 L189.39,73.44 L189.94,74.37 L190.50,75.33 L191.06,76.40 L191.62,77.55 L192.18,78.75 L192.74,79.98 L193.29,81.21 L193.85,82.40 L194.41,83.54 L194.97,84.58 L195.53,85.51 L196.09,86.41 L196.65,87.29 L197.20,88.12 L197.76,88.82 L198.32,89.36 L198.88,89.75 L199.44,90.11 L200.00,90.39 L200.55,90.56 L201.11,90.59 L201.67,90.47 L202.23,90.24 L202.79,89.95 L203.35,89.60 L203.91,89.15 L204.46,88.47 L205.02,87.60 L205.58,86.66 L206.14,85.71 L206.70,84.82 L207.26,83.86 L207.81,82.81 L208.37,81.71 L208.93,80.59 L209.49,79.47 L210.05,78.39 L210.61,77.36 L211.17,76.42 L211.72,75.60 L212.28,74.92 L212.84,74.41 L213.40,74.05 L213.96,73.70 L214.52,73.39 L215.07,73.12 L215.63,72.90 L216.19,72.76 L216.75,72.70 L217.31,72.78 L217.87,73.05 L218.43,73.46 L218.98,74.00 L219.54,74.64 L220.10,75.34 L220.66,76.08 L221.22,76.83 L221.78,77.57 L222.33,78.39 L222.89,79.37 L223.45,80.41 L224.01,81.39 L224.57,82.24 L225.13,83.06 L225.69,83.88 L226.24,84.68 L226.80,85.43 L227.36,86.10 L227.92,86.64 L228.48,87.04 L229.04,87.29 L229.59,93.98 L230.15,87.65 L230.71,87.78 L231.27,87.87 L231.83,87.90 L232.39,87.82 L232.94,87.62 L233.50,87.33 L234.06,86.97 L234.62,86.56 L235.18,86.00 L235.74,85.16 L236.30,84.19 L236.80,103.30 L241.72,103.30 L241.84,120.63 L241.60,140.00 L241.57,152.80 L241.61,162.13 L241.69,169.14 L241.80,175.00 L242.03,180.50 L242.27,185.34 L242.50,189.62 L242.73,193.42 L242.97,196.85 L243.20,200.00 L243.42,202.75 L243.64,205.27 L243.86,207.57 L244.08,209.64 L244.30,211.50 L244.52,213.36 L244.74,215.26 L244.96,216.94 L245.18,218.14 L245.40,218.60 L245.64,218.41 L245.88,217.91 L246.12,217.19 L246.36,216.35 L246.60,215.50 L246.83,214.56 L247.07,213.39 L247.30,212.08 L247.53,210.69 L247.77,209.31 L248.00,208.00 L248.25,206.73 L248.50,205.54 L248.75,204.36 L249.00,203.09 L249.25,201.67 L249.50,200.00 L249.74,198.05 L249.98,195.73 L250.22,193.08 L250.46,190.16 L250.70,187.03 L250.94,183.73 L251.18,180.33 L251.36,176.87 L251.42,173.41 L251.48,170.00 L251.53,166.53 L251.58,162.84 L251.61,159.00 L251.64,155.07 L251.67,151.14 L251.71,147.26 L251.75,143.53 L251.70,140.00 L251.94,136.66 L252.18,133.44 L252.42,130.33 L252.65,127.30 L252.89,124.33 L253.13,121.39 L253.37,118.47 L253.61,115.54 L253.85,112.58 L254.08,109.57 L254.32,106.49 L254.56,103.30 L254.80,100.00 L255.05,96.42 L255.29,92.66 L255.30,88.76 L254.80,84.77 L254.77,80.73 L255.77,76.68 L256.52,72.68 L256.76,68.77 L257.01,64.98 L257.25,61.38 L257.74,58.00 L257.37,54.83 L257.02,51.76 L257.45,48.79 L258.93,45.92 L260.15,43.17 L260.76,40.53 L261.00,38.00 L261.22,35.85 L261.44,33.83 L261.66,31.89 L261.88,29.96 L262.10,28.00 L262.32,25.94 L262.54,23.82 L262.76,21.72 L262.98,19.75 L263.20,18.00 L263.43,16.33 L263.65,14.74 L263.87,13.37 L264.10,12.40 L264.33,11.66 L264.57,10.98 L264.80,10.39 L265.03,9.92 L265.27,9.61 L265.80,9.50 L266.36,9.94 L266.92,10.85 L267.48,12.12 L268.03,13.86 L268.59,15.77 L269.15,17.96 L269.71,20.24 L270.27,22.33 L270.83,24.06 L271.38,25.65 L271.94,26.94 M291.49,42.05 L292.05,42.48 L292.61,42.97 L293.16,43.55 L293.72,44.25 L294.28,45.22 L294.84,46.69 L295.40,48.58 L295.96,50.74 L296.51,53.46 L297.07,56.77 L297.63,60.41 L298.19,64.67 L298.75,69.10 L299.31,72.93 L299.87,76.45 L300.42,79.79 L300.98,82.95 L301.54,85.98 L302.10,88.99 L302.66,91.91 L303.22,94.45 L303.77,96.44 L304.33,98.32 L304.89,102.27 L305.45,100.30 L306.01,100.28 L306.57,100.22 L307.13,100.13 L307.68,99.92 L308.24,99.39 L308.80,98.64 L309.36,97.81 L309.92,96.79 L310.48,95.52 L311.03,94.04 L311.59,92.40 L312.15,90.66 L312.71,88.87 L313.27,87.08 L313.83,85.36 L314.39,83.74 L314.94,82.15 L315.50,80.48 L316.06,78.77 L316.62,77.05 L317.18,75.38 L317.74,73.79 L318.29,80.32 L318.85,71.01 L319.41,69.92 L319.97,69.00 L320.53,68.08 L321.09,67.22 L321.64,66.49 L322.20,65.96 L322.76,65.72 L323.32,65.82 L323.88,66.27 L324.44,66.99 L325.00,67.87 L325.55,68.84 L326.11,69.80 L326.67,70.92 L327.23,72.27 L327.79,73.80 L328.35,75.45 L328.90,77.17 L329.46,78.89 L330.02,80.56 L330.58,82.14 L331.14,83.55 L331.70,84.89 L332.26,86.27 L332.81,87.64 L333.37,88.92 L333.93,90.04 L334.49,90.93 L335.05,91.54 L335.61,91.98 L336.16,92.40 L336.72,92.77 L337.28,93.07 L337.84,93.31 L338.40,93.46 L338.96,93.50 L339.52,93.42 L340.07,93.24 L340.63,92.97 L341.19,92.66 L341.75,92.33 L342.31,91.95 L342.87,91.46 L343.42,90.88 L343.98,90.22 L344.54,89.51 L345.10,88.66 L345.66,87.67 L346.22,86.56 L346.78,85.36 L347.33,84.12 L347.89,82.86 L348.45,81.62 L349.01,80.42 L349.57,79.31 L350.13,78.30 L350.68,77.29 L351.24,76.31 L351.80,75.41 L352.36,74.66 L352.92,74.04 L353.48,73.42 L354.04,72.86 L354.59,72.42 L355.15,72.16 L355.71,72.12 L356.27,72.32 L356.83,72.68 L357.39,73.15 L357.94,73.67 L358.50,74.20 L359.06,74.84 L359.62,75.60 L360.18,76.42 L360.74,77.23 L361.29,78.01 L361.85,78.82 L362.41,79.66 L362.97,80.52 L363.53,81.38 L364.09,82.23 L364.65,83.04 L365.20,83.80 L365.76,84.50 L366.32,85.12 L366.88,85.68 L367.44,86.24 L368.00,86.81 L368.55,87.36 L369.11,87.87 L369.67,88.32 L370.23,88.68 L370.79,88.94 L371.35,94.08 L371.91,89.07 L372.46,88.89 L373.02,88.58 L373.58,88.15 L374.14,87.63 L374.70,87.07 L375.26,86.47 L375.81,85.88 L376.37,85.33 L376.93,84.75 L377.49,84.10 L378.05,83.40 L378.61,82.65 L379.17,81.90 L379.72,81.15 L380.28,80.43 L380.84,79.76 L381.40,79.16 L381.96,78.65 L382.52,78.17 L383.07,77.68 L383.63,77.20 L384.19,76.75 L384.75,76.37 L385.31,76.07 L385.87,75.87 L386.43,75.80 L386.98,75.88 L387.54,76.10 L388.10,76.42 L388.66,76.82 L389.22,77.30 L389.78,77.82 L390.33,78.36 L390.89,78.90 L391.45,79.42 L392.01,79.89 L392.57,80.38 L393.13,80.92 L393.69,81.48 L394.24,82.06 L394.80,82.64 L395.36,83.20 L395.92,83.73 L396.48,84.22 L397.04,84.65 L397.59,85.02 L398.15,85.39 L398.71,85.76 L399.27,86.09 L399.83,86.36 L400.39,86.54 L400.94,95.60 L401.50,86.48 L402.06,86.20 L402.62,85.78 L403.18,85.24 L403.74,84.25 L404.30,82.72 L404.70,103.30 L409.65,103.30 L409.83,114.14 L409.91,127.98 L409.90,140.00 L409.93,148.67 L409.97,156.53 L410.03,163.62 L410.10,170.00 L410.25,177.44 L410.50,184.36 L410.75,190.36 L411.00,195.00 L411.22,198.11 L411.43,200.83 L411.65,203.23 L411.87,205.35 L412.08,207.25 L412.30,209.00 L412.55,211.06 L412.80,213.07 L413.05,214.60 L413.30,215.20 L413.52,215.06 L413.73,214.67 L413.95,214.10 L414.17,213.42 L414.38,212.70 L414.60,212.00 L414.85,211.23 L415.09,210.44 L415.34,209.60 L415.58,208.70 L415.83,207.74 L416.07,206.70 L416.32,205.58 L416.56,204.36 L416.81,203.03 L417.05,201.58 L417.30,200.00 L417.53,198.17 L417.76,195.84 L417.99,193.10 L418.22,190.03 L418.45,186.74 L418.68,183.31 L418.91,179.82 L419.05,176.38 L419.11,173.08 L419.18,170.00 L419.26,166.98 L419.34,164.02 L419.43,161.10 L419.52,158.20 L419.61,155.30 L419.69,152.38 L419.78,149.41 L419.86,146.37 L419.93,143.24 L419.90,140.00 L420.14,136.68 L420.37,133.25 L420.61,129.72 L420.85,126.11 L421.08,122.43 L421.32,118.71 L421.55,114.96 L421.79,111.20 L422.03,107.44 L422.26,103.70 L422.50,100.00 L422.73,96.31 L422.59,92.51 L421.86,88.64 L421.75,84.73 L422.96,80.81 L423.90,76.92 L424.13,73.09 L424.37,69.35 L424.60,65.74 L424.83,62.29 L425.04,59.03 L425.18,56.00 L425.32,53.25 L425.88,50.61 L426.79,48.08 L427.67,45.65 L428.22,43.33 L428.45,41.11 L428.67,39.00 L428.90,37.00 L429.14,34.97 L429.38,33.04 L429.62,31.23 L429.86,29.54 L430.10,28.00 L430.33,26.60 L430.57,25.27 L430.80,24.01 L431.03,22.84 L431.27,21.77 L431.50,20.80 L431.74,19.86 L431.98,18.94 L432.22,18.12 L432.46,17.45 L432.70,17.00 L432.92,16.72 L433.13,16.46 L433.35,16.23 L433.57,16.06 L433.78,15.94 L434.30,15.90 L434.86,16.34 L435.42,17.23 L435.98,18.66 L436.53,20.28 L437.09,22.06 L437.65,23.85 L438.21,25.42 L438.77,26.83 L439.33,28.20 L439.88,29.40 M459.99,44.79 L460.55,45.49 L461.11,46.36 L461.66,47.61 L462.22,49.24 L462.78,51.09 L463.34,53.22 L463.90,55.81 L464.46,64.66 L465.01,61.67 L465.57,64.95 L466.13,68.37 L466.69,72.01 L467.25,75.65 L467.81,79.06 L468.37,82.02 L468.92,84.64 L469.48,87.02 L470.04,89.15 L470.60,91.07 L471.16,92.80 L471.72,94.29 L472.27,95.68 L472.83,96.91 L473.39,97.85 L473.95,98.54 L474.51,99.14 L475.07,99.52 L475.63,99.58 L476.18,107.35 L476.74,98.96 L477.30,98.50 L477.86,97.86 L478.42,96.97 L478.98,95.93 L479.53,94.82 L480.09,93.56 L480.65,92.14 L481.21,90.60 L481.77,88.97 L482.33,87.29 L482.89,85.60 L483.44,83.92 L484.00,82.30 L484.56,80.76 L485.12,79.14 L485.68,77.45 L486.24,75.74 L486.79,74.08 L487.35,72.54 L487.91,71.20 L488.47,70.11 L489.03,69.30 L489.59,68.56 L490.14,67.88 L490.70,67.29 L491.26,66.83 L491.82,66.56 L492.38,66.52 L492.94,66.76 L493.50,67.24 L494.05,67.91 L494.61,68.70 L495.17,69.58 L495.73,70.48 L496.29,71.38 L496.85,72.50 L497.40,73.80 L497.96,75.25 L498.52,76.79 L499.08,78.36 L499.64,79.91 L500.20,81.39 L500.76,82.74 L501.31,83.93 L501.87,85.09 L502.43,86.26 L502.99,87.39 L503.55,88.42 L504.11,89.29 L504.66,89.93 L505.22,95.34 L505.78,90.66 L506.34,90.95 L506.90,91.19 L507.46,91.37 L508.02,101.48 L508.57,91.48 L509.13,91.29 L509.69,90.93 L510.25,90.46 L510.81,89.97 L511.37,89.47 L511.92,88.88 L512.48,88.22 L513.04,87.50 L513.60,86.75 L514.16,85.98 L514.72,85.13 L515.28,84.19 L515.83,83.18 L516.39,82.14 L516.95,81.09 L517.51,80.06 L518.07,79.07 L518.63,78.16 L519.18,77.35 L519.74,76.67 L520.30,76.09 L520.86,75.50 L521.42,74.93 L521.98,74.40 L522.54,73.94 L523.09,73.57 L523.65,73.31 L524.21,73.21 L524.77,73.25 L525.33,73.45 L525.89,73.76 L526.44,74.16 L527.00,74.64 L527.56,75.19 L528.12,75.76 L528.68,76.35 L529.24,76.94 L529.79,77.50 L530.35,78.06 L530.91,78.70 L531.47,79.40 L532.03,80.14 L532.59,80.89 L533.15,81.64 L533.70,82.37 L534.26,83.05 L534.82,83.66 L535.38,84.18 L535.94,84.66 L536.50,85.16 L537.05,85.65 L537.61,86.12 L538.17,86.55 L538.73,86.92 L539.29,87.21 L539.85,87.41 L540.41,87.50 L540.96,87.47 L541.52,87.35 L542.08,87.16 L542.64,86.91 L543.20,86.61 L543.76,86.28 L544.31,85.93 L544.87,85.57 L545.43,85.21 L545.99,84.79 L546.55,84.28 L547.11,83.70 L547.67,83.07 L548.22,82.43 L548.78,81.78 L549.34,81.16 L549.90,80.59 L550.46,80.07 L551.02,79.64 L551.57,79.20 L552.13,78.75 L552.69,78.31 L553.25,77.90 L553.81,77.53 L554.37,77.23 L554.93,77.02 L555.48,87.91 L556.04,76.93 L556.60,77.06 L557.16,77.29 L557.72,77.60 L558.28,77.97 L558.83,78.38 L559.39,78.80 L559.95,79.22 L560.51,79.61 L561.07,79.97 L561.63,80.36 L562.19,80.77 L562.74,81.20 L563.30,81.63 L563.86,82.06 L564.42,82.47 L564.98,82.86 L565.54,83.21 L566.09,83.50 L566.65,83.76 L567.21,84.02 L567.77,84.27 L568.33,84.49 L568.89,84.69 L569.44,84.82 L570.00,84.89 L570.56,84.82 L571.12,84.49 L571.68,83.94 L572.00,103.30 L577.06,103.30 L577.23,112.84 L577.33,126.72 L577.30,140.00 L577.28,152.72 L577.27,164.92 L577.30,175.00 L577.53,182.87 L577.77,189.54 L578.00,195.00 L578.25,199.78 L578.50,203.85 L578.75,207.50 L579.00,211.00 L579.25,214.77 L579.50,218.60 L579.75,221.75 L580.00,223.50 L580.20,224.10 L580.40,224.53 L580.60,224.70 L580.83,224.52 L581.07,224.07 L581.30,223.50 L581.52,222.79 L581.74,221.81 L581.96,220.63 L582.18,219.34 L582.40,218.00 L582.64,216.48 L582.89,214.86 L583.13,213.13 L583.38,211.29 L583.62,209.32 L583.87,207.22 L584.11,204.97 L584.36,202.57 L584.60,200.00 L584.84,197.11 L585.08,193.69 L585.31,189.88 L585.55,185.82 L585.79,181.67 L586.00,177.55 L586.03,173.61 L586.08,170.00 L586.14,166.78 L586.21,163.68 L586.28,160.68 L586.35,157.75 L586.43,154.86 L586.51,151.98 L586.59,149.09 L586.66,146.14 L586.73,143.12 L586.70,140.00 L586.95,136.57 L587.19,133.07 L587.44,129.52 L587.68,125.92 L587.93,122.28 L588.17,118.61 L588.42,114.91 L588.66,111.19 L588.91,107.46 L589.15,103.73 L589.40,100.00 L589.65,96.20 L589.89,92.29 L590.14,88.30 L590.38,84.27 L590.63,80.23 L590.87,76.23 L591.12,72.30 L591.36,68.47 L591.61,64.79 L591.85,61.28 L591.72,58.00 L591.39,55.11 L591.08,52.33 L592.26,49.66 L593.60,47.09 L594.85,44.63 L595.27,42.27 L595.50,40.00 L595.73,37.82 L595.97,35.76 L596.20,33.79 L596.43,31.87 L596.67,29.95 L596.90,28.00 L597.12,26.15 L597.33,24.29 L597.55,22.43 L597.77,20.59 L597.98,18.77 L598.20,17.00 L598.42,15.18 L598.64,13.33 L598.86,11.53 L599.08,9.89 L599.30,8.50 L599.53,7.14 L599.77,5.75 L600.00,4.46 L600.23,3.40 L600.47,2.67 L601.00,2.40 L601.56,3.16 L602.12,4.65 L602.68,6.82 L603.23,9.34 L603.79,11.78 L604.35,14.27 L604.91,16.61 L605.47,18.62" stroke="#ff0000" stroke-width="2.0" stroke-dasharray="7 3.4"/>
<path d="M103.00,24.00 V28.30 M103.70,33.40 V42.30 M106.20,25.00 V31.20 M107.20,29.50 V37.00 M108.80,30.00 V37.00 M110.60,30.50 V47.40 M112.60,31.50 V43.00 M114.50,34.80 V40.00 M116.20,36.20 V46.00 M117.60,37.00 V43.00 M119.80,38.00 V46.00 M120.60,49.60 V55.50 M122.00,39.20 V42.30 M126.70,46.00 V50.40 M271.60,27.00 V36.00 M273.20,29.00 V54.00 M274.40,29.50 V52.00 M275.80,30.00 V56.40 M277.00,30.50 V38.00 M277.00,44.00 V50.00 M278.30,31.00 V46.50 M279.90,35.00 V41.20 M281.20,36.00 V51.80 M282.30,37.00 V45.00 M283.60,40.00 V55.80 M285.50,40.00 V50.50 M287.30,41.50 V59.10 M289.30,44.00 V49.20 M437.50,34.50 V40.40 M441.00,33.50 V45.50 M442.20,33.00 V41.00 M443.60,32.50 V53.60 M445.10,33.00 V61.00 M446.60,35.00 V48.00 M447.60,38.50 V51.40 M449.20,39.60 V55.80 M450.30,40.00 V49.00 M451.80,40.50 V51.40 M453.50,41.00 V46.00 M454.30,42.00 V53.00 M456.20,42.60 V48.50 M458.40,43.50 V47.00 M605.00,21.00 V30.00 M606.40,26.00 V34.00 M606.80,36.00 V42.70 M608.20,25.50 V31.60 M609.00,31.60 V38.30 M611.90,33.00 V53.70 M612.20,60.00 V67.50 M614.10,28.50 V33.00 M614.10,37.50 V44.00 M616.30,37.50 V49.30 M618.50,35.00 V43.40 M618.50,47.80 V53.70 M620.00,36.00 V50.80 M622.10,37.50 V47.80 M622.30,59.00 V74.00 M624.40,40.50 V45.60 M625.90,43.40 V54.00" stroke="#ff0000" stroke-width="1.8"/>
<path d="M69.50,103.50 H74.40 M237.40,103.30 H241.40 M404.20,103.10 H408.90 M571.50,102.90 H575.90" stroke="#ff0000" stroke-width="2"/>
</g>
<path d="M69.5,1.5 H627.6 V224.4 H69.5 Z" fill="none" stroke="#262626" stroke-width="1.1"/>
<path d="M125.05,224.4 V218.80 M125.05,1.5 V7.10 M180.89,224.4 V218.80 M180.89,1.5 V7.10 M236.74,224.4 V218.80 M236.74,1.5 V7.10 M292.58,224.4 V218.80 M292.58,1.5 V7.10 M348.43,224.4 V218.80 M348.43,1.5 V7.10 M404.27,224.4 V218.80 M404.27,1.5 V7.10 M460.12,224.4 V218.80 M460.12,1.5 V7.10 M515.96,224.4 V218.80 M515.96,1.5 V7.10 M571.81,224.4 V218.80 M571.81,1.5 V7.10 M69.5,11.41 H75.10 M627.6,11.41 H622.00 M69.5,46.59 H75.10 M627.6,46.59 H622.00 M69.5,81.77 H75.10 M627.6,81.77 H622.00 M69.5,116.95 H75.10 M627.6,116.95 H622.00 M69.5,152.13 H75.10 M627.6,152.13 H622.00 M69.5,187.31 H75.10 M627.6,187.31 H622.00 M69.5,222.49 H75.10 M627.6,222.49 H622.00" fill="none" stroke="#262626" stroke-width="1.1"/>
<g font-family="Liberation Sans, sans-serif" font-size="15.7" fill="#262626">
<text transform="translate(63.00,17.71) scale(1,1.02)" text-anchor="end">0.02</text><text transform="translate(63.00,52.89) scale(1,1.02)" text-anchor="end">0.01</text><text transform="translate(63.00,88.07) scale(1,1.02)" text-anchor="end">0</text><text transform="translate(61.40,123.25) scale(1,1.02)" text-anchor="end">-0.01</text><text transform="translate(61.40,158.43) scale(1,1.02)" text-anchor="end">-0.02</text><text transform="translate(61.40,193.61) scale(1,1.02)" text-anchor="end">-0.03</text><text transform="translate(61.40,228.79) scale(1,1.02)" text-anchor="end">-0.04</text>
<text transform="translate(68.90,246.9) scale(1,1.02)" text-anchor="middle">0</text><text transform="translate(124.75,246.9) scale(1,1.02)" text-anchor="middle">100</text><text transform="translate(180.59,246.9) scale(1,1.02)" text-anchor="middle">200</text><text transform="translate(236.44,246.9) scale(1,1.02)" text-anchor="middle">300</text><text transform="translate(292.28,246.9) scale(1,1.02)" text-anchor="middle">400</text><text transform="translate(348.12,246.9) scale(1,1.02)" text-anchor="middle">500</text><text transform="translate(403.97,246.9) scale(1,1.02)" text-anchor="middle">600</text><text transform="translate(459.81,246.9) scale(1,1.02)" text-anchor="middle">700</text><text transform="translate(515.66,246.9) scale(1,1.02)" text-anchor="middle">800</text><text transform="translate(571.51,246.9) scale(1,1.02)" text-anchor="middle">900</text><text transform="translate(627.35,246.9) scale(1,1.02)" text-anchor="middle">1000</text>
</g>
<g font-family="Liberation Serif, serif" font-size="17.6" fill="#000">
<text transform="translate(271,267.9) scale(1.115,1)">Testing Samples (<tspan font-style="italic">k</tspan>)</text>
<text transform="translate(15.2,220.7) rotate(-90) scale(1.095,1.02)">Feedback Position of Ia (<tspan font-style="italic">s</tspan><tspan dy="-6.5" font-size="13">1</tspan><tspan dy="6.5">)</tspan></text>
</g>
<rect x="442.5" y="172.5" width="127.6" height="44.6" fill="#fff" stroke="#262626" stroke-width="1.1"/>
<path d="M447.9,184.5 H499.1" stroke="#0000ff" stroke-width="2"/>
<path d="M447.9,204.8 H499.1" stroke="#ff0000" stroke-width="2" stroke-dasharray="10.2 6.1"/>
<g font-family="Liberation Sans, sans-serif" font-size="14.6" fill="#000" style="font-kerning:none">
<text x="503.3" y="189.7">Encoding</text>
<text x="503.3" y="210.2">Target</text>
</g>
</svg></div></body></html>
